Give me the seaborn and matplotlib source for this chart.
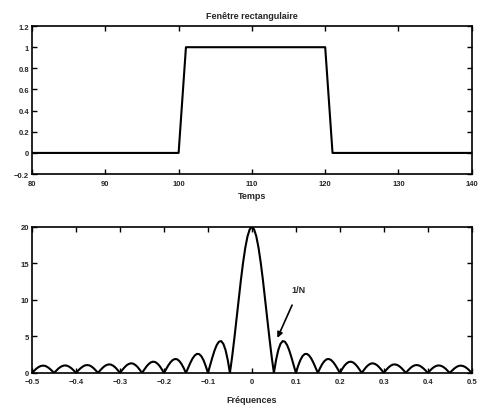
import numpy as np
import pandas as pd
import matplotlib
matplotlib.use("Agg")
import matplotlib.pyplot as plt
import seaborn as sns

# ---- data ----
temps = np.arange(80, 141)
fenetre = [0] * 21 + [1] * 20 + [0] * 20

# |spectrum| of the window, f = 0 .. 0.5 step 0.005 (symmetric)
spectre_pos = [
    20.00, 19.67, 18.71, 17.17, 15.15, 12.75, 10.11, 7.37, 4.69, 2.19,
    0.00, 1.80, 3.14, 3.99, 4.36, 4.28, 3.82, 3.07, 2.11, 1.05,
    0.00, 0.95, 1.74, 2.29, 2.58, 2.61, 2.39, 1.97, 1.38, 0.70,
    0.00, 0.66, 1.22, 1.63, 1.87, 1.91, 1.77, 1.47, 1.05, 0.54,
    0.00, 0.51, 0.96, 1.29, 1.49, 1.54, 1.44, 1.20, 0.86, 0.44,
    0.00, 0.43, 0.81, 1.09, 1.27, 1.32, 1.23, 1.04, 0.74, 0.39,
    0.00, 0.38, 0.71, 0.97, 1.13, 1.17, 1.10, 0.93, 0.67, 0.35,
    0.00, 0.34, 0.65, 0.89, 1.04, 1.08, 1.02, 0.86, 0.62, 0.33,
    0.00, 0.32, 0.61, 0.84, 0.98, 1.03, 0.97, 0.83, 0.60, 0.31,
    0.00, 0.31, 0.59, 0.81, 0.96, 1.00, 0.95, 0.81, 0.59, 0.31,
    0.00,
]
spectre = np.concatenate([spectre_pos[:0:-1], spectre_pos])
freqs = np.round(np.arange(-100, 101) * 0.005, 3)

top_yticks = [-0.2, 0, 0.2, 0.4, 0.6, 0.8, 1, 1.2]
top_xticks = [80, 90, 100, 110, 120, 130, 140]
bot_yticks = [0, 5, 10, 15, 20]
bot_xticks = [-0.5, -0.4, -0.3, -0.2, -0.1, 0, 0.1, 0.2, 0.3, 0.4, 0.5]

# ---- style ----
sns.set_style("ticks")
plt.rcParams['font.family'] = ['Liberation Sans', 'DejaVu Sans']
plt.rcParams['axes.unicode_minus'] = True

fig = plt.figure(figsize=(4.78, 4.10), dpi=100)
ax1 = fig.add_axes([0.067, 0.573, 0.920, 0.361])
ax2 = fig.add_axes([0.067, 0.088, 0.920, 0.356])

df1 = pd.DataFrame({"t": temps, "w": fenetre})
df2 = pd.DataFrame({"f": freqs, "s": spectre})

sns.lineplot(data=df1, x="t", y="w", ax=ax1, color="black", linewidth=1.5)
sns.lineplot(data=df2, x="f", y="s", ax=ax2, color="black", linewidth=1.5)


def fmt(v):
    s = ("%g" % v)
    return s.replace("-", "\u2212")


for ax, xt, yt, xl, yl in [
    (ax1, top_xticks, top_yticks, (80, 140), (-0.2, 1.2)),
    (ax2, bot_xticks, bot_yticks, (-0.5, 0.5), (0, 20)),
]:
    ax.set_xlim(*xl)
    ax.set_ylim(*yl)
    ax.set_xticks(xt)
    ax.set_yticks(yt)
    ax.set_xticklabels([fmt(v) for v in xt], fontsize=5.5, fontweight="bold")
    ax.set_yticklabels([fmt(v) for v in yt], fontsize=5.5, fontweight="bold")
    ax.tick_params(direction="in", top=True, right=True, length=3.5,
                   width=1.0, color="black")
    ax.tick_params(axis="x", pad=4)
    ax.tick_params(axis="y", pad=2)
    for sp in ax.spines.values():
        sp.set_visible(True)
        sp.set_linewidth(1.2)
        sp.set_color("black")

ax1.set_title("Fenêtre rectangulaire", fontsize=6.5, fontweight="bold", pad=6)
ax1.set_xlabel("Temps", fontsize=6.5, fontweight="bold", labelpad=3)
ax1.set_ylabel("")
ax2.set_xlabel("Fréquences", fontsize=6.5, fontweight="bold", labelpad=7)
ax2.set_ylabel("")

ax2.annotate("1/N", xy=(0.058, 4.8), xytext=(0.107, 11.4),
             fontsize=6.5, fontweight="bold", ha="center", va="center",
             arrowprops=dict(arrowstyle="-|>", color="black", lw=1.2,
                             shrinkA=6, shrinkB=0, mutation_scale=8))

fig.savefig("out.png", dpi=100)
